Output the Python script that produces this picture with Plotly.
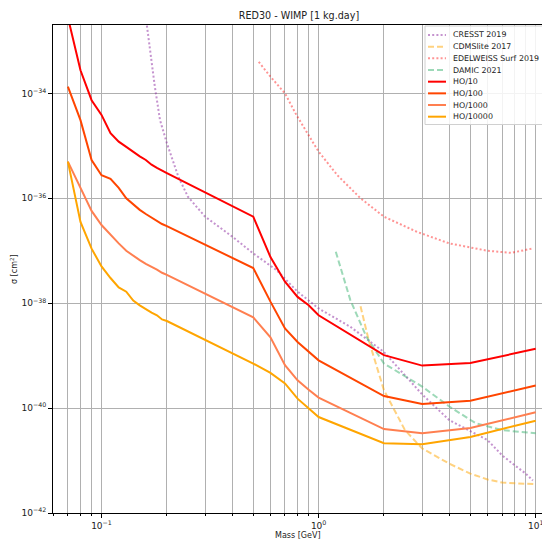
import plotly.graph_objects as go

# ---------------- data ----------------
ho_mass = [0.07, 0.08, 0.09, 0.10, 0.11, 0.12, 0.13, 0.14, 0.15, 0.16, 0.17, 0.18, 0.19,
           0.20, 0.50, 0.60, 0.70, 0.80, 0.90, 1.0, 2.0, 3.0, 5.0, 10.0]

# log10(sigma / cm^2)
ho10_log = [-32.55, -33.56, -34.13, -34.41, -34.76, -34.92, -35.02, -35.12, -35.20, -35.27,
            -35.36, -35.42, -35.47, -35.52, -36.35, -37.12, -37.59, -37.88, -38.04, -38.23,
            -38.99, -39.19, -39.14, -38.87]
ho100_log = [-33.87, -34.51, -35.27, -35.56, -35.63, -35.80, -36.00, -36.12, -36.22, -36.30,
             -36.37, -36.43, -36.49, -36.53, -37.33, -37.97, -38.48, -38.74, -38.93, -39.09,
             -39.77, -39.92, -39.86, -39.57]
ho1000_log = [-35.30, -35.79, -36.24, -36.51, -36.70, -36.86, -37.00, -37.10, -37.18, -37.25,
              -37.30, -37.36, -37.42, -37.46, -38.27, -38.65, -39.18, -39.47, -39.65, -39.80,
              -40.40, -40.48, -40.38, -40.08]
ho10000_log = [-35.30, -36.45, -36.96, -37.30, -37.52, -37.70, -37.78, -37.95, -38.04, -38.12,
               -38.18, -38.23, -38.31, -38.34, -39.15, -39.33, -39.53, -39.82, -40.00, -40.17,
               -40.67, -40.69, -40.55, -40.24]

cresst_mass = [0.16, 0.176, 0.186, 0.20, 0.226, 0.25, 0.30, 0.40, 0.50, 0.64, 0.80, 1.0,
               1.4, 2.0, 3.0, 4.0, 6.0, 7.0, 8.0, 9.0, 9.7]
cresst_log = [-32.55, -33.87, -34.51, -34.95, -35.59, -35.97, -36.35, -36.73, -37.05, -37.37,
              -37.78, -38.10, -38.45, -38.93, -39.74, -40.23, -40.61, -40.90, -41.09, -41.25,
              -41.38]

cdms_mass = [1.56, 1.70, 2.0, 2.5, 3.0, 4.0, 5.0, 6.0, 7.0, 8.5, 9.8]
cdms_log = [-38.06, -38.70, -39.66, -40.42, -40.77, -41.06, -41.25, -41.36, -41.42, -41.44, -41.45]

edel_mass = [0.53, 0.60, 0.70, 0.79, 0.90, 1.0, 1.22, 1.56, 2.0, 2.84, 4.0, 6.0, 7.7, 9.6]
edel_log = [-33.40, -33.68, -34.00, -34.41, -34.80, -35.11, -35.56, -36.00, -36.35, -36.64,
            -36.86, -37.00, -37.04, -36.96]

damic_mass = [1.2, 1.4, 1.66, 2.0, 3.0, 4.0, 5.3, 7.0, 10.0]
damic_log = [-37.02, -37.94, -38.64, -39.15, -39.59, -39.97, -40.29, -40.42, -40.48]

x_major_ticks = [0.1, 1, 10]
x_major_text = ["10<sup>−1</sup>", "10<sup>0</sup>", "10<sup>1</sup>"]
x_minor_ticks = [0.06, 0.07, 0.08, 0.09, 0.2, 0.3, 0.4, 0.5, 0.6, 0.7, 0.8, 0.9,
                 2, 3, 4, 5, 6, 7, 8, 9]
y_ticks_exp = [-42, -40, -38, -36, -34]

# ---------------- styling ----------------
FONT = "DejaVu Sans"
W, H = 542, 540
L, R, T, B = 53, 0, 25, 27
PW, PH = W - L - R, H - T - B

def px_x(x):
    return (x - L) / PW

def px_y(y):
    return (H - B - y) / PH

DOT = "2px,2.2px"
DASH = "6px,3px"
series = [
    ("CRESST 2019", cresst_mass, cresst_log, "rgba(140,40,160,0.5)", DOT),
    ("CDMSlite 2017", cdms_mass, cdms_log, "rgba(255,165,0,0.5)", DASH),
    ("EDELWEISS Surf 2019", edel_mass, edel_log, "rgba(255,0,0,0.42)", DOT),
    ("DAMIC 2021", damic_mass, damic_log, "rgba(60,179,113,0.5)", DASH),
    ("HO/10", ho_mass, ho10_log, "#ff0000", "solid"),
    ("HO/100", ho_mass, ho100_log, "#ff4500", "solid"),
    ("HO/1000", ho_mass, ho1000_log, "#ff7f50", "solid"),
    ("HO/10000", ho_mass, ho10000_log, "#ffa500", "solid"),
]

fig = go.Figure()
for name, xs, logs, color, dash in series:
    fig.add_trace(go.Scatter(
        x=xs, y=[10 ** v for v in logs], mode="lines", name=name,
        line=dict(color=color, width=2, dash=dash), showlegend=False))

# ---------------- custom compact legend (matplotlib-like) ----------------
shapes = [dict(type="rect", xref="paper", yref="paper",
               x0=px_x(425), x1=px_x(545), y0=px_y(124.5), y1=px_y(26),
               line=dict(color="#d0d0d0", width=1), fillcolor="rgba(255,255,255,0.85)",
               layer="above")]
annotations = []
for i, (name, xs, logs, color, dash) in enumerate(series):
    yy = 35 + i * 11.67
    shapes.append(dict(type="line", xref="paper", yref="paper",
                       x0=px_x(428), x1=px_x(446), y0=px_y(yy), y1=px_y(yy),
                       line=dict(color=color, width=2, dash=dash), layer="above"))
    annotations.append(dict(text=name, xref="paper", yref="paper",
                            x=px_x(450.5), y=px_y(yy), xanchor="left", yanchor="middle",
                            showarrow=False, font=dict(size=7.9, family=FONT, color="#222")))

# axis titles
annotations.append(dict(text="Mass [GeV]", xref="paper", yref="paper",
                        x=px_x(298), y=px_y(535.5), xanchor="center", yanchor="middle",
                        showarrow=False, font=dict(size=8, family=FONT, color="#222")))
annotations.append(dict(text="σ [cm<sup>2</sup>]", xref="paper", yref="paper",
                        x=px_x(14), y=px_y(269), xanchor="center", yanchor="middle",
                        textangle=-90, showarrow=False,
                        font=dict(size=8, family=FONT, color="#222")))

fig.update_layout(
    width=W, height=H,
    margin=dict(l=L, r=R, t=T, b=B, autoexpand=False),
    paper_bgcolor="white", plot_bgcolor="white",
    font=dict(family=FONT, size=9, color="#222"),
    title=dict(text="RED30 - WIMP [1 kg.day]", x=299 / W, xanchor="center",
               y=1 - 16 / H, yanchor="middle", xref="container", yref="container",
               font=dict(size=9.6, family=FONT, color="#222")),
    showlegend=False,
    shapes=shapes,
    annotations=annotations,
)

fig.update_xaxes(
    type="log", range=[-1.2235, 1.029], automargin=False,
    tickmode="array", tickvals=x_major_ticks, ticktext=x_major_text,
    tickfont=dict(size=9, family=FONT, color="#222"), ticklabeloverflow="allow",
    ticks="outside", ticklen=4, tickcolor="black", tickwidth=1,
    showgrid=True, gridcolor="#b0b0b0", gridwidth=1,
    minor=dict(tickmode="array", tickvals=x_minor_ticks, showgrid=True,
               gridcolor="#b0b0b0", gridwidth=1, ticks="outside", ticklen=2,
               tickcolor="black"),
    showline=True, linecolor="black", linewidth=1, mirror=True,
    zeroline=False,
)

fig.update_yaxes(
    type="log", range=[-42, -32.696], automargin=False,
    tickmode="array", tickvals=[10 ** e for e in y_ticks_exp],
    ticktext=["10<sup>−%d</sup>" % (-e) for e in y_ticks_exp],
    tickfont=dict(size=9, family=FONT, color="#222"),
    ticks="outside", ticklen=4, tickcolor="black", tickwidth=1,
    showgrid=True, gridcolor="#b0b0b0", gridwidth=1,
    showline=True, linecolor="black", linewidth=1, mirror=False,
    zeroline=False,
)

fig.write_html(
    "out.html",
    config={"displayModeBar": False},
    post_script="document.body.style.margin='0';document.body.style.padding='0';"
                "document.body.style.overflow='hidden';",
)
